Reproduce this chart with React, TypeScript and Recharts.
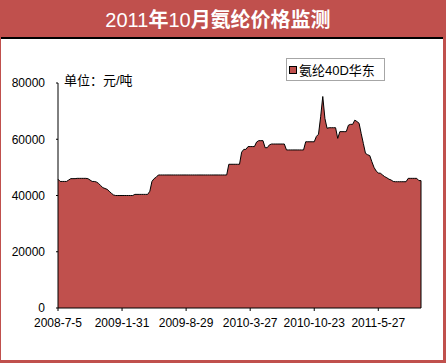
import React from 'react';
import { AreaChart, Area, XAxis, YAxis, Legend, ReferenceLine } from 'recharts';

const titleParts = ['2011', '年', '10', '月氨纶价格监测'];
const unitLabel = '单位：元/吨';
const seriesName = '氨纶40D华东';
const tickIndices = [0, 30, 60, 90, 120, 150];
const tickLabels = ['2008-7-5', '2009-1-31', '2009-8-29', '2010-3-27', '2010-10-23', '2011-5-27'];
const yTicks = [0, 20000, 40000, 60000, 80000];

// weekly price, yuan/ton
const prices = [
  45800, 45000, 45000, 45000, 45000, 45500, 46000, 46000, 46000, 46100,
  46100, 46100, 46100, 46100, 46000, 45500, 45000, 45000, 44800, 44300,
  43500, 42800, 42500, 42200, 41500, 40800, 40200, 40000, 40000, 40000,
  40000, 40000, 40000, 40000, 40000, 40000, 40400, 40400, 40400, 40400,
  40400, 40400, 40400, 41500, 45000, 46000, 46500, 47300, 47300, 47300,
  47300, 47300, 47300, 47300, 47300, 47300, 47300, 47300, 47300, 47300,
  47300, 47300, 47300, 47300, 47300, 47300, 47300, 47300, 47300, 47300,
  47300, 47300, 47300, 47300, 47300, 47300, 47300, 47300, 47300, 47300,
  51100, 51100, 51100, 51100, 51100, 51100, 55400, 56400, 56400, 57400,
  57400, 57400, 57400, 59000, 59500, 59500, 59500, 57000, 57000, 58000,
  58300, 58300, 58300, 58300, 58300, 58300, 58300, 56200, 56200, 56200,
  56200, 56200, 56200, 56200, 56200, 56200, 59100, 59100, 59100, 59100,
  59100, 61000, 61800, 68000, 75200, 67400, 63900, 64100, 64100, 64100,
  64100, 60300, 62700, 62700, 62700, 62700, 65000, 65300, 65300, 66800,
  66300, 65700, 62000, 58500, 55000, 54500, 54200, 52000, 50000, 48700,
  48000, 47900, 47300, 46700, 46300, 45800, 45500, 45000, 44900, 44900,
  44900, 44900, 44900, 44900, 46100, 46100, 46100, 46100, 46100, 45300,
  45300,
];

const RED = '#C0504D';
const FONT = '"Liberation Sans", "Noto Sans CJK SC", sans-serif';

const data = prices.map((v, i) => ({ i, v }));
const lastIndex = prices.length - 1;

const fmtX = (v: number) => {
  const k = tickIndices.indexOf(v);
  return k >= 0 ? tickLabels[k] : '';
};

const renderLegend = (props: any) => {
  const payload = props.payload || [];
  return (
    <div
      style={{
        border: '1px solid #a6a6a6',
        background: '#fff',
        width: 97,
        height: 21,
        display: 'flex',
        alignItems: 'center',
        fontFamily: FONT,
        fontSize: 13,
        color: '#000',
        boxSizing: 'content-box',
      }}
    >
      {payload.map((entry: any, idx: number) => (
        <span key={idx} style={{ display: 'flex', alignItems: 'center', marginLeft: 2 }}>
          <span
            style={{
              display: 'inline-block',
              width: 6,
              height: 6,
              background: RED,
              border: '1px solid #000',
              marginRight: 2,
            }}
          />
          {entry.value}
        </span>
      ))}
    </div>
  );
};

export default function App() {
  return (
    <div
      style={{
        position: 'absolute',
        left: 0,
        top: 0,
        width: 446,
        height: 363,
        background: RED,
        fontFamily: FONT,
        overflow: 'hidden',
      }}
    >
      <div
        style={{
          position: 'absolute',
          left: 0,
          top: 8,
          width: 436,
          textAlign: 'center',
          color: '#fff',
          fontSize: 20,
          lineHeight: '24px',
          whiteSpace: 'nowrap',
        }}
      >
        <span>{titleParts[0]}</span>
        <span style={{ fontWeight: 'bold' }}>{titleParts[1]}</span>
        <span>{titleParts[2]}</span>
        <span style={{ fontWeight: 'bold' }}>{titleParts[3]}</span>
      </div>
      <div
        style={{
          position: 'absolute',
          left: 1,
          top: 37,
          width: 442,
          height: 2,
          background: '#000',
        }}
      />
      <div
        style={{
          position: 'absolute',
          left: 1,
          top: 39,
          width: 442,
          height: 321,
          background: '#fff',
        }}
      >
        <div
          style={{
            position: 'absolute',
            left: 63,
            top: 34,
            fontSize: 13,
            lineHeight: '16px',
            color: '#000',
            whiteSpace: 'nowrap',
            zIndex: 2,
          }}
        >
          {unitLabel}
        </div>
        <AreaChart
          width={442}
          height={321}
          data={data}
          margin={{ top: 44, right: 22, bottom: 22, left: 0 }}
        >
          <XAxis
            type="number"
            dataKey="i"
            domain={[0, lastIndex]}
            ticks={tickIndices}
            tickFormatter={fmtX}
            interval={0}
            height={30}
            axisLine={{ stroke: '#000' }}
            tickLine={{ stroke: '#000' }}
            tickSize={3}
            tickMargin={7}
            tick={{ fill: '#000', fontSize: 12, fontFamily: FONT }}
          />
          <YAxis
            type="number"
            domain={[0, 80000]}
            ticks={yTicks}
            interval={0}
            width={57}
            axisLine={{ stroke: '#000' }}
            tickLine={{ stroke: '#000' }}
            tickSize={2}
            tickMargin={11}
            tick={{ fill: '#000', fontSize: 12, fontFamily: FONT }}
          />
          <Legend
            layout="horizontal"
            verticalAlign="middle"
            align="center"
            content={renderLegend}
            wrapperStyle={{ left: 285, top: 19, width: 'auto', height: 'auto' }}
          />
          <Area
            type="linear"
            dataKey="v"
            name={seriesName}
            fill={RED}
            fillOpacity={1}
            stroke="#000"
            strokeWidth={1}
            isAnimationActive={false}
            dot={false}
            activeDot={false}
          />
          <ReferenceLine
            segment={[
              { x: lastIndex, y: 0 },
              { x: lastIndex, y: prices[lastIndex] },
            ]}
            stroke="#000"
            strokeWidth={1}
          />
        </AreaChart>
      </div>
    </div>
  );
}
